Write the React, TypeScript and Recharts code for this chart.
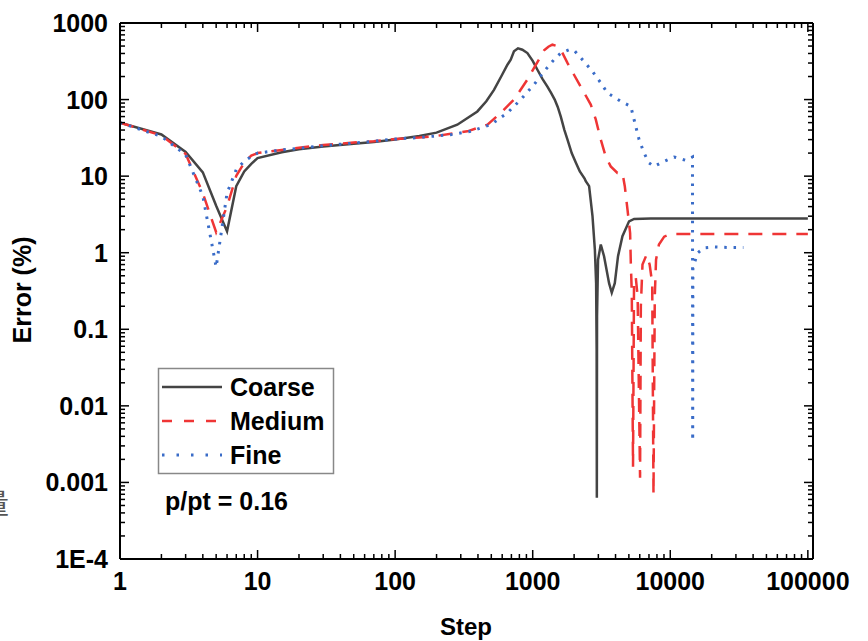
import { Line, LineChart, ReferenceLine, XAxis, YAxis } from "recharts";

// [step, error %]
const coarse: [number, number][] = [
  [1, 50], [2, 35], [3, 20.7], [4, 11.2], [5, 4.1], [6, 1.9], [7, 7.4], [8, 11.5], [9, 14.5], [10, 17.2],
  [15, 20.5], [20, 22.5], [30, 24.3], [50, 26.5], [70, 28], [100, 30], [150, 33.5], [200, 37],
  [283, 47], [396, 70], [460, 95], [523, 134], [590, 200], [655, 285], [692, 332], [731, 426],
  [782, 467], [841, 448], [915, 405], [1000, 320], [1082, 245], [1180, 185], [1279, 148], [1360, 122],
  [1445, 100], [1520, 80], [1600, 60], [1700, 40], [1790, 30], [1920, 20], [2060, 15], [2200, 11.5],
  [2390, 9.2], [2430, 8.6], [2570, 7.4], [2720, 3.0], [2830, 1.1], [2890, 0.4], [2915, 0.054],
  [2925, 0.00063], [2935, 0.148], [2985, 0.81], [3125, 1.28], [3300, 0.9], [3590, 0.4], [3755, 0.3],
  [3950, 0.4], [4170, 0.9], [4490, 1.64], [5015, 2.57], [5460, 2.76], [7200, 2.8], [100000, 2.8],
];

const medium: [number, number][] = [
  [1, 50], [2, 34], [3, 19.5], [4, 6.0], [5, 1.85], [6, 4.0], [7, 10.1], [8, 15], [9, 18.5], [10, 20],
  [15, 22], [20, 23.5], [30, 25.5], [50, 27.5], [70, 28.5], [100, 30.5], [150, 32], [200, 33.5],
  [335, 38.5], [469, 47], [585, 67], [731, 100], [915, 182], [1023, 260], [1143, 366], [1210, 440],
  [1300, 490], [1390, 521], [1500, 500], [1600, 448], [1788, 301], [1996, 211], [2297, 135],
  [2642, 86], [2873, 55], [3125, 30], [3396, 18], [3690, 13.4], [4128, 11], [4490, 11], [4670, 7.4],
  [4887, 3.65], [5105, 1.81], [5165, 0.74], [5250, 0.3], [5360, 0.0016], [5450, 0.4], [5610, 0.48],
  [5790, 0.27], [6030, 0.00115], [6110, 0.2], [6280, 0.7], [6720, 0.94], [7080, 0.7], [7390, 0.4],
  [7550, 0.0007], [7716, 0.27], [7880, 0.81], [8270, 1.28], [9030, 1.62], [9800, 1.72], [11000, 1.76],
  [100000, 1.76],
];

const fine: [number, number][] = [
  [1, 50], [2, 33], [3, 19], [4, 5.5], [5, 0.65], [6, 6.0], [7, 12.2], [8, 15.6], [9, 18], [10, 20],
  [15, 22], [20, 23], [30, 25], [50, 27], [70, 28.5], [100, 30.5], [150, 32], [253, 34.8], [354, 38.5],
  [495, 47], [655, 67], [818, 100], [1023, 157], [1208, 233], [1428, 332], [1600, 405], [1837, 448],
  [1996, 440], [2360, 315], [2717, 233], [3125, 165], [3494, 122], [4365, 95], [5165, 81.5],
  [5610, 44.7], [5932, 30], [6450, 20], [7010, 14.9], [7620, 13.4], [9015, 15.6], [10660, 17.8],
  [12960, 16.1], [14500, 17.8], [14550, 0.0035], [14600, 0.63], [15780, 0.99], [17620, 1.16],
  [20800, 1.19], [26800, 1.17], [34000, 1.17],
];

const xMajor = [1, 10, 100, 1000, 10000, 100000];
const xLabels = ["1", "10", "100", "1000", "10000", "100000"];
const yMajor = [1e-4, 0.001, 0.01, 0.1, 1, 10, 100, 1000];
const yLabels = ["1E-4", "0.001", "0.01", "0.1", "1", "10", "100", "1000"];

const series = [
  { name: "Coarse", data: coarse, color: "#444444", dash: undefined, legendDash: undefined, width: 2.5 },
  { name: "Medium", data: medium, color: "#ef3535", dash: "14 10", legendDash: "10 12", width: 2.5 },
  { name: "Fine", data: fine, color: "#3a6cc8", dash: "2.5 6.8", legendDash: "2.5 12", width: 3 },
];

const W = 868;
const H = 641;
const PLOT_W = 693;
const PLOT_H = 536;
const FONT = "'Liberation Sans', Arial, sans-serif";

const withMinors = (majors: number[]) => {
  const out: number[] = [];
  majors.forEach((m, i) => {
    out.push(m);
    if (i < majors.length - 1) for (let k = 2; k <= 9; k++) out.push(m * k);
  });
  return out;
};
const xTicks = withMinors(xMajor);
const yTicks = withMinors(yMajor);

const majorIndex = (v: number, majors: number[]) =>
  majors.findIndex((m) => Math.abs(Math.log10(v) - Math.log10(m)) < 1e-6);

const XTick = (props: any) => {
  const { x, y, payload } = props;
  const idx = majorIndex(payload.value, xMajor);
  const len = idx >= 0 ? 9 : 5;
  return (
    <g>
      <line x1={x} x2={x} y1={y} y2={y - len} stroke="#000" strokeWidth={1.5} />
      <line x1={x} x2={x} y1={y - PLOT_H} y2={y - PLOT_H + len} stroke="#000" strokeWidth={1.5} />
      {idx >= 0 && (
        <text x={x} y={y + 31} textAnchor="middle" fontFamily={FONT} fontWeight="bold" fontSize={25} fill="#000">
          {xLabels[idx]}
        </text>
      )}
    </g>
  );
};

const YTick = (props: any) => {
  const { x, y, payload } = props;
  const idx = majorIndex(payload.value, yMajor);
  const len = idx >= 0 ? 9 : 5;
  return (
    <g>
      <line x1={x} x2={x + len} y1={y} y2={y} stroke="#000" strokeWidth={1.5} />
      <line x1={x + PLOT_W} x2={x + PLOT_W - len} y1={y} y2={y} stroke="#000" strokeWidth={1.5} />
      {idx >= 0 && (
        <text x={x - 12} y={y + 9} textAnchor="end" fontFamily={FONT} fontWeight="bold" fontSize={25} fill="#000">
          {yLabels[idx]}
        </text>
      )}
    </g>
  );
};

const Overlay = () => (
  <svg width={W} height={H} style={{ position: "absolute", left: 0, top: 0, pointerEvents: "none" }}>
    <rect x={158.5} y={368.5} width={175} height={105} fill="none" stroke="#888" strokeWidth={1.5} />
    {series.map((s, i) => (
      <g key={s.name}>
        <line
          x1={162}
          x2={222}
          y1={387 + i * 34}
          y2={387 + i * 34}
          stroke={s.color}
          strokeWidth={s.width}
          strokeDasharray={s.legendDash}
        />
        <text x={230} y={396 + i * 34} fontFamily={FONT} fontWeight="bold" fontSize={25} fill="#000">
          {s.name}
        </text>
      </g>
    ))}
    <text x={165} y={510} fontFamily={FONT} fontWeight="bold" fontSize={25} fill="#000">
      p/pt = 0.16
    </text>
    <text x={466} y={635} textAnchor="middle" fontFamily={FONT} fontWeight="bold" fontSize={24} fill="#000">
      Step
    </text>
    <text
      transform="translate(31,290) rotate(-90)"
      textAnchor="middle"
      fontFamily={FONT}
      fontWeight="bold"
      fontSize={25}
      fill="#000"
    >
      Error (%)
    </text>
    <text x={9} y={514} textAnchor="end" fontFamily="'Noto Sans CJK SC'" fontSize={28} fill="#555">
      量
    </text>
  </svg>
);

export default function App() {
  return (
    <div style={{ position: "absolute", left: 0, top: 0, width: W, height: H, background: "#fff" }}>
      <LineChart width={W} height={H} margin={{ top: 23, right: 55, bottom: 0, left: 0 }}>
        <XAxis
          type="number"
          dataKey="x"
          scale="log"
          domain={[1, 109000]}
          allowDataOverflow
          ticks={xTicks}
          interval={0}
          tickLine={false}
          tickSize={0}
          tickMargin={0}
          height={82}
          axisLine={{ stroke: "#000", strokeWidth: 2 }}
          tick={(p: any) => <XTick {...p} />}
        />
        <YAxis
          type="number"
          scale="log"
          domain={[1e-4, 1000]}
          allowDataOverflow
          ticks={yTicks}
          interval={0}
          tickLine={false}
          tickSize={0}
          tickMargin={0}
          width={120}
          axisLine={{ stroke: "#000", strokeWidth: 2 }}
          tick={(p: any) => <YTick {...p} />}
        />
        <ReferenceLine y={1000} stroke="#000" strokeWidth={2} />
        <ReferenceLine x={109000} stroke="#000" strokeWidth={2} />
        {series.map((s) => (
          <Line
            key={s.name}
            name={s.name}
            data={s.data.map(([x, y]) => ({ x, y }))}
            dataKey="y"
            type="linear"
            stroke={s.color}
            strokeWidth={s.width}
            strokeDasharray={s.dash}
            dot={false}
            activeDot={false}
            isAnimationActive={false}
          />
        ))}
      </LineChart>
      <Overlay />
    </div>
  );
}
